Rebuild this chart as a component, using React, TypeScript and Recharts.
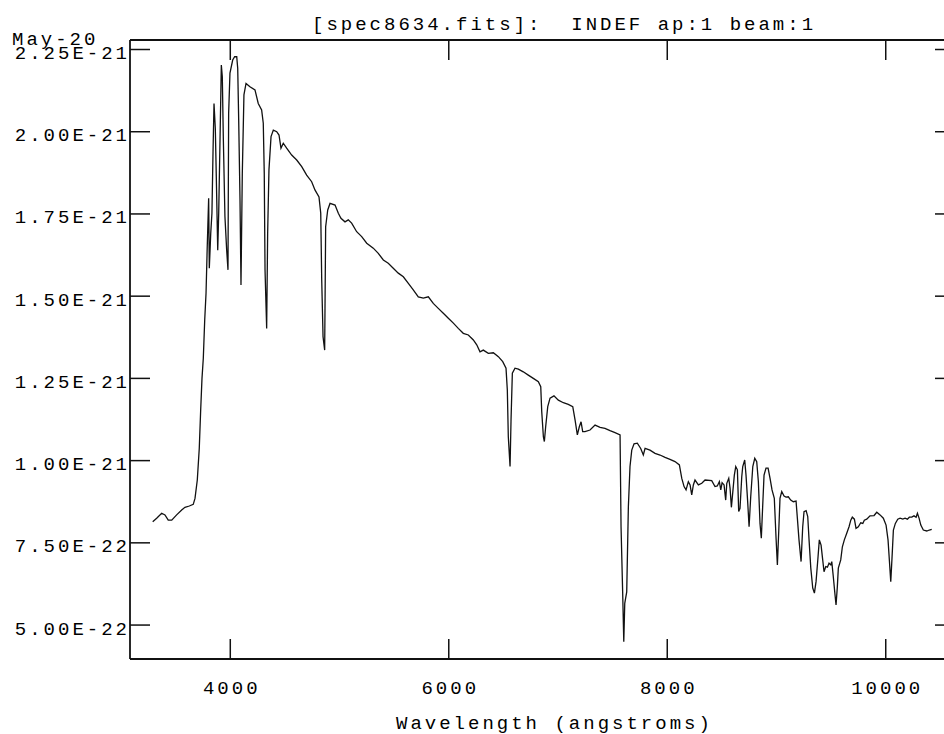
import React from 'react';
import { LineChart, Line, XAxis, YAxis } from 'recharts';

// Wavelength (angstroms)
const wavelength = [
  3290, 3326, 3372, 3402, 3432, 3464, 3509, 3555, 3585, 3625,
  3661, 3677, 3698, 3716, 3729, 3741, 3753, 3766, 3778, 3789,
  3802, 3808, 3821, 3832, 3842, 3851, 3863, 3872, 3885, 3894,
  3906, 3918, 3927, 3936, 3951, 3967, 3979, 3985, 3997, 4022,
  4040, 4059, 4068, 4077, 4089, 4098, 4110, 4125, 4144, 4180,
  4226, 4256, 4287, 4302, 4311, 4318, 4333, 4342, 4354, 4373,
  4394, 4425, 4446, 4464, 4485, 4516, 4562, 4608, 4654, 4699,
  4745, 4775, 4812, 4828, 4837, 4849, 4864, 4873, 4892, 4913,
  4959, 4989, 5013, 5050, 5080, 5111, 5157, 5203, 5249, 5309,
  5355, 5401, 5446, 5492, 5538, 5584, 5630, 5675, 5721, 5767,
  5813, 5858, 5904, 5950, 5996, 6042, 6087, 6133, 6179, 6225,
  6256, 6286, 6316, 6362, 6408, 6454, 6494, 6524, 6536, 6545,
  6561, 6570, 6582, 6606, 6637, 6682, 6728, 6774, 6820, 6842,
  6851, 6866, 6875, 6887, 6906, 6927, 6963, 7003, 7049, 7094,
  7135, 7156, 7177, 7195, 7211, 7226, 7247, 7293, 7339, 7385,
  7430, 7476, 7522, 7568, 7577, 7592, 7602, 7611, 7629, 7644,
  7659, 7675, 7696, 7726, 7757, 7781, 7797, 7842, 7888, 7934,
  7980, 8025, 8071, 8111, 8133, 8154, 8172, 8193, 8209, 8224,
  8239, 8254, 8285, 8316, 8346, 8407, 8437, 8458, 8477, 8490,
  8502, 8520, 8535, 8545, 8563, 8575, 8587, 8599, 8614, 8627,
  8642, 8654, 8666, 8682, 8691, 8709, 8721, 8737, 8749, 8764,
  8783, 8801, 8819, 8834, 8849, 8861, 8874, 8886, 8904, 8923,
  8941, 8959, 8980, 8996, 9008, 9021, 9032, 9048, 9069, 9087,
  9108, 9130, 9154, 9179, 9191, 9206, 9225, 9240, 9252, 9271,
  9286, 9298, 9314, 9332, 9347, 9362, 9378, 9392, 9408, 9423,
  9435, 9451, 9466, 9481, 9497, 9506, 9520, 9536, 9545, 9557,
  9566, 9588, 9603, 9621, 9643, 9664, 9680, 9694, 9713, 9728,
  9749, 9771, 9790, 9804, 9826, 9856, 9893, 9918, 9948, 9978,
  10003, 10021, 10033, 10046, 10058, 10070, 10088, 10110, 10131, 10156,
  10177, 10198, 10216, 10238, 10259, 10278, 10290, 10305, 10321, 10344,
  10376, 10399, 10421,
];

// Flux, in units of 1E-21
const fluxE21 = [
  0.814, 0.825, 0.840, 0.835, 0.819, 0.819, 0.835, 0.850, 0.858, 0.862,
  0.867, 0.885, 0.941, 1.037, 1.154, 1.250, 1.311, 1.428, 1.509, 1.650,
  1.798, 1.585, 1.691, 1.752, 1.939, 2.086, 2.010, 1.863, 1.640, 1.752,
  1.975, 2.203, 2.167, 1.985, 1.742, 1.640, 1.580, 2.056, 2.178, 2.218,
  2.228, 2.228, 2.193, 2.036, 1.792, 1.534, 1.874, 2.112, 2.147, 2.137,
  2.127, 2.086, 2.066, 2.026, 1.874, 1.580, 1.402, 1.691, 1.884, 1.985,
  2.005, 2.000, 1.990, 1.950, 1.965, 1.950, 1.929, 1.914, 1.894, 1.868,
  1.848, 1.823, 1.802, 1.752, 1.549, 1.377, 1.336, 1.711, 1.762, 1.782,
  1.777, 1.752, 1.737, 1.726, 1.732, 1.722, 1.696, 1.681, 1.661, 1.646,
  1.630, 1.610, 1.600, 1.585, 1.570, 1.559, 1.539, 1.519, 1.498, 1.494,
  1.498, 1.478, 1.463, 1.448, 1.433, 1.418, 1.402, 1.387, 1.382, 1.367,
  1.352, 1.331, 1.336, 1.326, 1.328, 1.316, 1.301, 1.281, 1.215, 1.073,
  0.982, 1.124, 1.266, 1.281, 1.278, 1.270, 1.260, 1.250, 1.240, 1.225,
  1.149, 1.073, 1.058, 1.103, 1.164, 1.190, 1.197, 1.184, 1.176, 1.171,
  1.164, 1.124, 1.078, 1.103, 1.118, 1.088, 1.088, 1.093, 1.108, 1.101,
  1.098, 1.091, 1.085, 1.078, 0.799, 0.597, 0.449, 0.566, 0.601, 0.860,
  0.982, 1.032, 1.051, 1.053, 1.037, 1.017, 1.037, 1.032, 1.022, 1.017,
  1.010, 1.004, 0.997, 0.987, 0.946, 0.921, 0.911, 0.936, 0.926, 0.896,
  0.926, 0.941, 0.926, 0.931, 0.941, 0.939, 0.921, 0.923, 0.936, 0.911,
  0.933, 0.926, 0.880, 0.931, 0.946, 0.916, 0.858, 0.901, 0.956, 0.982,
  0.972, 0.845, 0.855, 0.951, 0.982, 1.002, 0.956, 0.870, 0.799, 0.890,
  0.982, 1.007, 0.997, 0.936, 0.809, 0.764, 0.865, 0.956, 0.977, 0.977,
  0.946, 0.911, 0.885, 0.764, 0.683, 0.789, 0.885, 0.906, 0.892, 0.889,
  0.890, 0.880, 0.875, 0.877, 0.825, 0.759, 0.693, 0.799, 0.845, 0.848,
  0.830, 0.759, 0.673, 0.612, 0.597, 0.632, 0.698, 0.759, 0.743, 0.698,
  0.662, 0.678, 0.676, 0.688, 0.683, 0.693, 0.647, 0.591, 0.561, 0.617,
  0.673, 0.698, 0.738, 0.759, 0.779, 0.799, 0.819, 0.828, 0.822, 0.794,
  0.799, 0.811, 0.809, 0.819, 0.822, 0.832, 0.833, 0.843, 0.835, 0.825,
  0.804, 0.759, 0.698, 0.632, 0.708, 0.789, 0.809, 0.822, 0.825, 0.822,
  0.825, 0.822, 0.828, 0.828, 0.832, 0.828, 0.840, 0.825, 0.804, 0.789,
  0.786, 0.789, 0.791,
];

const xTicks = [4000, 6000, 8000, 10000];
const yTicks = [0.5, 0.75, 1.0, 1.25, 1.5, 1.75, 2.0, 2.25];
const yTickLabels = [
  '5.00E-22', '7.50E-22', '1.00E-21', '1.25E-21',
  '1.50E-21', '1.75E-21', '2.00E-21', '2.25E-21',
];

const title = '[spec8634.fits]:  INDEF ap:1 beam:1';
const dateLabel = 'May-20';
const xLabel = 'Wavelength (angstroms)';

const data = wavelength.map((w, i) => ({ w, f: fluxE21[i] }));

const font: React.CSSProperties = {
  fontFamily: '"Liberation Mono", "DejaVu Sans Mono", monospace',
  fontSize: 19,
  letterSpacing: 3,
  fill: '#000',
  whiteSpace: 'pre',
};

const INK = '#111';
const TICK = 20;

const BottomTick = (props: any) => {
  const { x, y, payload } = props;
  return (
    <g>
      <line x1={x} y1={y} x2={x} y2={y - TICK} stroke={INK} strokeWidth={1.5} />
      <text x={x + 1.5} y={y + 35} textAnchor="middle" style={font}>
        {payload.value}
      </text>
    </g>
  );
};

const TopTick = (props: any) => {
  const { x, y } = props;
  return <line x1={x} y1={y} x2={x} y2={y + TICK} stroke={INK} strokeWidth={1.5} />;
};

const LeftTick = (props: any) => {
  const { x, y, payload } = props;
  const idx = yTicks.indexOf(payload.value);
  return (
    <g>
      <line x1={x} y1={y} x2={x + TICK} y2={y} stroke={INK} strokeWidth={1.5} />
      <text x={x} y={y + 9.5} textAnchor="end" style={font}>
        {yTickLabels[idx]}
      </text>
    </g>
  );
};

const RightTick = (props: any) => {
  const { x, y } = props;
  return <line x1={x} y1={y} x2={x - TICK} y2={y} stroke={INK} strokeWidth={1.5} />;
};

const xDomain: [number, number] = [3082, 10634];
const yDomain: [number, number] = [0.3968, 2.2789];

export default function App() {
  return (
    <div
      style={{
        position: 'fixed',
        left: 0,
        top: 0,
        width: 944,
        height: 734,
        overflow: 'hidden',
        background: '#fff',
      }}
    >
      <LineChart
        width={970}
        height={734}
        data={data}
        margin={{ top: 39, right: 14, bottom: 0, left: 0 }}
      >
        <XAxis
          dataKey="w"
          type="number"
          domain={xDomain}
          ticks={xTicks}
          allowDataOverflow
          height={75}
          tickSize={0}
          tickMargin={0}
          tickLine={false}
          tick={BottomTick}
          axisLine={{ stroke: INK, strokeWidth: 1.8 }}
        />
        <XAxis
          xAxisId="top"
          orientation="top"
          dataKey="w"
          type="number"
          domain={xDomain}
          ticks={xTicks}
          allowDataOverflow
          height={1}
          tickSize={0}
          tickMargin={0}
          tickLine={false}
          tick={TopTick}
          axisLine={{ stroke: INK, strokeWidth: 1.8 }}
        />
        <YAxis
          type="number"
          domain={yDomain}
          ticks={yTicks}
          allowDataOverflow
          width={130}
          tickSize={0}
          tickMargin={0}
          tickLine={false}
          tick={LeftTick}
          axisLine={{ stroke: INK, strokeWidth: 1.8 }}
        />
        <YAxis
          yAxisId="right"
          orientation="right"
          type="number"
          domain={yDomain}
          ticks={yTicks}
          allowDataOverflow
          width={1}
          tickSize={0}
          tickMargin={0}
          tickLine={false}
          tick={RightTick}
          axisLine={{ stroke: INK, strokeWidth: 1.8 }}
        />
        <Line
          type="linear"
          dataKey="f"
          stroke={INK}
          strokeWidth={1.3}
          dot={false}
          isAnimationActive={false}
        />
      </LineChart>
      <svg
        width={944}
        height={734}
        style={{ position: 'absolute', left: 0, top: 0, pointerEvents: 'none' }}
      >
        <text x={312} y={30} style={font}>{title}</text>
        <text x={12} y={45} style={font}>{dateLabel}</text>
        <text x={396} y={729} style={font}>{xLabel}</text>
      </svg>
    </div>
  );
}
